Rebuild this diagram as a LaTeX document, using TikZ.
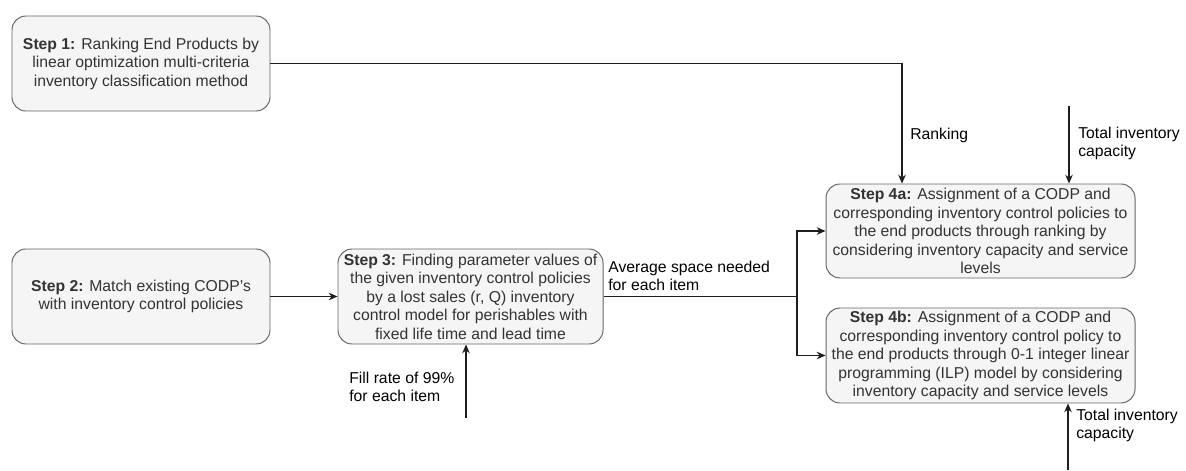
\documentclass[tikz,border=0pt]{standalone}
\usepackage{fontspec}
\setmainfont{Liberation Sans}
\usetikzlibrary{positioning,arrows.meta,calc}
\definecolor{boxdraw}{RGB}{102,102,102}
\definecolor{boxfill}{RGB}{245,245,245}
\definecolor{boxtext}{RGB}{51,51,51}
\definecolor{wired}{RGB}{30,30,30}

\begin{document}
\begin{tikzpicture}[
  stepbox/.style={rounded corners=3.5mm, draw=boxdraw, fill=boxfill, text=boxtext, line width=0.7pt, align=center, inner sep=0pt, font=\fontsize{11.2}{13.2}\selectfont},
  arr/.style={-{Stealth[length=2.2mm, width=1.9mm]}, line width=0.8pt, wired},
  wire/.style={line width=0.8pt, wired},
  elbl/.style={font=\fontsize{11.2}{12.8}\selectfont, text=black, align=left, anchor=west, inner sep=0pt},
]
\useasboundingbox (0,0) rectangle (29.65,-11.75);

% ============ steps ============
\node[stepbox, minimum width=6.45cm, minimum height=2.375cm] (s1) at (3.525,-1.5875)
  {{\bfseries Step 1:} Ranking End Products by\\linear optimization multi-criteria\\inventory classification method};
\node[stepbox, minimum width=6.45cm, minimum height=2.375cm] (s2) at (3.525,-7.4125)
  {{\bfseries Step 2:} Match existing CODP's\\with inventory control policies};
\node[stepbox, minimum width=6.625cm, minimum height=2.375cm] (s3) at (11.7625,-7.4125)
  {{\bfseries Step 3:} Finding parameter values of\\the given inventory control policies\\by a lost sales (r, Q) inventory\\control model for perishables with\\fixed life time and lead time};
\node[stepbox, minimum width=7.725cm, minimum height=2.35cm] (s4a) at (24.5125,-5.775)
  {{\bfseries Step 4a:} Assignment of a CODP and\\corresponding inventory control policies to\\the end products through ranking by\\considering inventory capacity and service\\levels};
\node[stepbox, minimum width=7.725cm, minimum height=2.375cm] (s4b) at (24.5125,-8.8875)
  {{\bfseries Step 4b:} Assignment of a CODP and\\corresponding inventory control policy to\\the end products through 0-1 integer linear\\programming (ILP) model by considering\\inventory capacity and service levels};

% ============ free ends ============
\coordinate (rk) at (22.55,-1.5875);
\coordinate (tcap) at (26.725,-2.65);
\coordinate (bcap) at (26.7,-11.75);
\coordinate (fill) at (11.65,-10.45);
\coordinate (split) at (19.925,-7.4125);

% ============ connectors ============
\draw[arr] (s2)--(s3);
\draw[arr] (s1.east)--(rk)--(rk |- s4a.north);
\draw[arr] (tcap)--(tcap |- s4a.north);
\draw[arr] (bcap)--(bcap |- s4b.south);
\draw[arr] (fill)--(fill |- s3.south);
\draw[wire] (s3.east)--(split);
\draw[arr] (split) |- (s4a.west);
\draw[arr] (split) |- (s4b.west);

% ============ labels ============
\node[elbl] (lrank) at (22.75,-3.375) {Ranking};
\node[elbl] (ltop) at (26.95,-3.575) {Total inventory\\capacity};
\node[elbl] (lbot) at (26.9,-10.6375) {Total inventory\\capacity};
\node[elbl] (lavg) at (15.2,-6.8875) {Average space needed\\for each item};
\node[elbl] (lfill) at (8.725,-9.675) {Fill rate of 99\%\\for each item};
\end{tikzpicture}
\end{document}
